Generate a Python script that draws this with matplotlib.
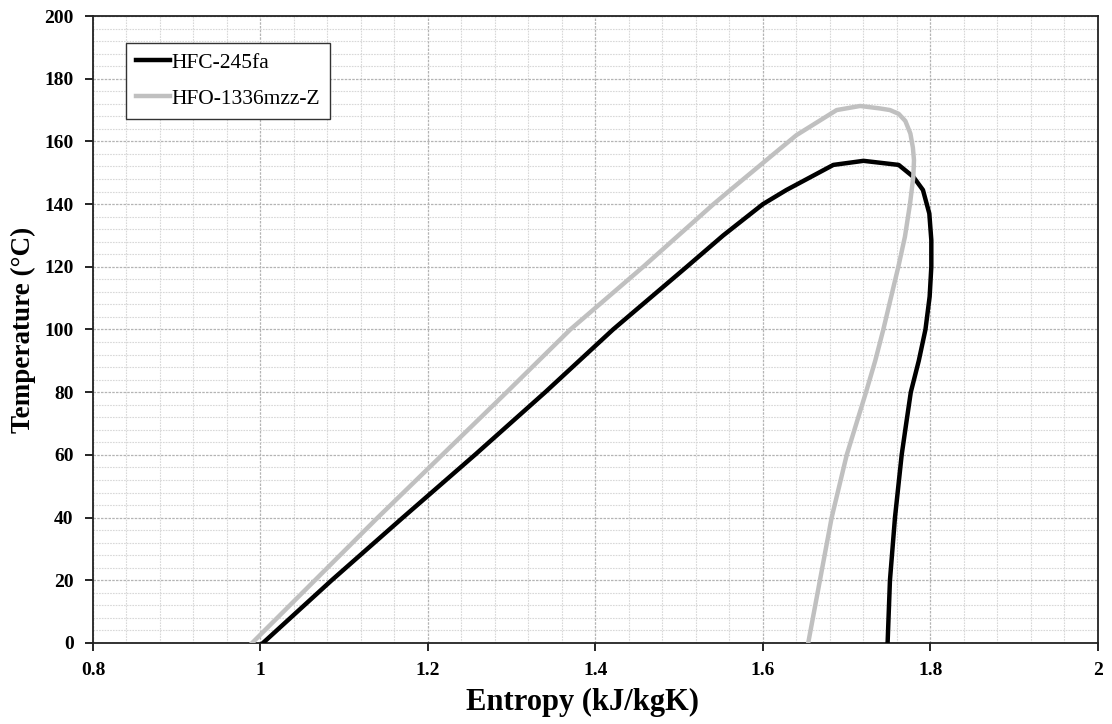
import numpy as np
import matplotlib
matplotlib.use("Agg")
import matplotlib.pyplot as plt
from matplotlib.ticker import MultipleLocator

# T-s saturation domes (liquid side, then vapor side)
s_245fa = [1.003, 1.085, 1.170, 1.256, 1.340, 1.421, 1.509, 1.5525, 1.600, 1.628,
           1.684, 1.720, 1.762, 1.7795, 1.791, 1.7986, 1.801, 1.801, 1.799, 1.794,
           1.786, 1.7765, 1.771, 1.7656, 1.7576, 1.7516, 1.7488]
T_245fa = [0, 20, 40, 60, 80, 100, 120, 130, 140, 144.5,
           152.5, 153.8, 152.5, 148.7, 144.5, 137, 128.5, 120, 110.5, 100,
           90, 80, 70, 60, 40, 20, 0]

s_1336 = [0.990, 1.065, 1.140, 1.217, 1.294, 1.370, 1.457, 1.541, 1.561, 1.640,
          1.688, 1.716, 1.740, 1.7516, 1.762, 1.770, 1.776, 1.779, 1.7803, 1.7795,
          1.7755, 1.7695, 1.7616, 1.7512, 1.7437, 1.734, 1.723, 1.700, 1.682, 1.668,
          1.654]
T_1336 = [0, 20, 40, 60, 80, 100, 120, 140, 144.5, 162,
          170, 171.3, 170.5, 170, 168.8, 166.5, 162.5, 158, 154, 148.7,
          140, 129.6, 120, 108.4, 100, 90, 80, 60, 40, 20,
          0]

labels = ["HFC-245fa", "HFO-1336mzz-Z"]
colors = ["#000000", "#c0c0c0"]

plt.rcParams['font.family'] = ['Liberation Serif', 'DejaVu Serif']

fig = plt.figure(figsize=(11.12, 7.24), dpi=100)
ax = fig.add_axes([0.0836, 0.1119, 0.9038, 0.866])

ax.plot(s_245fa, T_245fa, color=colors[0], lw=3.2, label=labels[0],
        solid_joinstyle='round', zorder=3)
ax.plot(s_1336, T_1336, color=colors[1], lw=3.2, label=labels[1],
        solid_joinstyle='round', zorder=3)

ax.set_xlim(0.8, 2.0)
ax.set_ylim(0, 200)
ax.xaxis.set_major_locator(MultipleLocator(0.2))
ax.xaxis.set_minor_locator(MultipleLocator(0.04))
ax.yaxis.set_major_locator(MultipleLocator(20))
ax.yaxis.set_minor_locator(MultipleLocator(4))
ax.set_xticks(np.arange(0.8, 2.01, 0.2))
ax.set_xticklabels(["0.8", "1", "1.2", "1.4", "1.6", "1.8", "2"])

ax.grid(which='major', color='#b4b4b4', lw=0.9, ls=(0, (2, 1)), zorder=0)
ax.grid(which='minor', color='#d8d8d8', lw=0.8, ls=(0, (1.5, 1)), zorder=0)

ax.tick_params(which='major', direction='out', length=6, width=1.2,
               labelsize=14, pad=8)
ax.tick_params(which='minor', length=0)
for lab in ax.get_xticklabels() + ax.get_yticklabels():
    lab.set_fontweight('bold')
for sp in ax.spines.values():
    sp.set_linewidth(1.3)
    sp.set_color('#222222')

ax.set_xlabel("Entropy (kJ/kgK)", fontsize=22, fontweight='bold')
ax.xaxis.set_label_coords(0.4866, -0.072)
ax.set_ylabel("Temperature (°C)", fontsize=19.5, fontweight='bold', labelpad=6)

leg = ax.legend(loc='upper left', bbox_to_anchor=(0.033, 0.957), borderaxespad=0,
                fontsize=15.5, handlelength=1.6, handletextpad=0.05,
                labelspacing=0.75, borderpad=0.45, fancybox=False, framealpha=1)
leg.get_frame().set_edgecolor('#333333')
leg.get_frame().set_linewidth(1.0)

fig.savefig("out.png", dpi=100)
